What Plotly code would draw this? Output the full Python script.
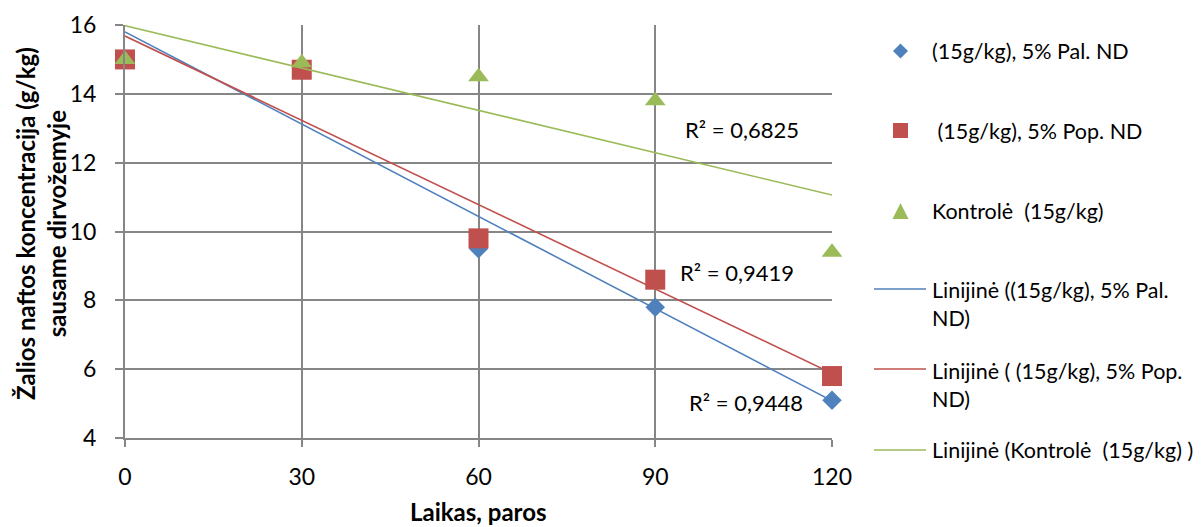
import numpy as np
import plotly.graph_objects as go

# Sampling days
days = [0, 30, 60, 90, 120]

# Crude oil concentration in dry soil, g/kg
pal_nd = [15.0, 14.8, 9.5, 7.8, 5.1]
pop_nd = [15.0, 14.7, 9.8, 8.6, 5.8]
kontrole = [15.0, 14.9, 14.5, 13.8, 9.4]

series_names = ["(15g/kg), 5% Pal. ND", " (15g/kg), 5% Pop. ND", "Kontrolė  (15g/kg)"]
trend_names = ["Linijinė ((15g/kg), 5% Pal.<br>ND)", "Linijinė ( (15g/kg), 5% Pop.<br>ND)",
               "Linijinė (Kontrolė  (15g/kg) )"]
r2_labels = ["R² = 0,9448", "R² = 0,9419", "R² = 0,6825"]

x_ticks = [0, 30, 60, 90, 120]
y_ticks = [4, 6, 8, 10, 12, 14, 16]

colors = ["#4F81BD", "#C0504D", "#9BBB59"]
symbols = ["diamond", "square", "triangle-up"]
sizes = [15, 20, 18]
FONT = "Lato"
GRID = "#868686"

# Figure geometry (pixels)
W, H = 1203, 527
L, R, T, B = 125, 832, 25, 438


def px(xp):
    return (xp - L) / (R - L)


def py(yp):
    return (B - yp) / (B - T)


fig = go.Figure()
data = [pal_nd, pop_nd, kontrole]
for vals, name, col, sym, sz in zip(data, series_names, colors, symbols, sizes):
    fig.add_trace(go.Scatter(x=days, y=vals, mode="markers", name=name, cliponaxis=False,
                             marker=dict(symbol=sym, size=sz, color=col, line=dict(width=0))))

# Least-squares linear trendlines
xs = np.array(days, dtype=float)
for vals, name, col in zip(data, trend_names, colors):
    slope, icpt = np.polyfit(xs, np.array(vals), 1)
    fig.add_trace(go.Scatter(x=[xs[0], xs[-1]], y=[icpt + slope * xs[0], icpt + slope * xs[-1]],
                             mode="lines", name=name, line=dict(color=col, width=1.6),
                             cliponaxis=False))

# R² labels next to each trendline
label_pos = [(95.4, 5.02), (93.9, 8.80), (94.7, 12.95)]
for (lx, ly), txt in zip(label_pos, r2_labels):
    fig.add_annotation(x=lx, y=ly, text=txt, showarrow=False, xanchor="left", yanchor="middle",
                       font=dict(family=FONT, size=22, color="black"))

# Hand-built legend on the right
shapes = []
mx = 900.5


def diamond(cx, cy, h):
    return (f"M{px(cx - h)},{py(cy)} L{px(cx)},{py(cy - h)} "
            f"L{px(cx + h)},{py(cy)} L{px(cx)},{py(cy + h)} Z")


def triangle(cx, cy, h):
    return (f"M{px(cx - h)},{py(cy + h)} L{px(cx + h)},{py(cy + h)} "
            f"L{px(cx)},{py(cy - h)} Z")


shapes.append(dict(type="path", xref="paper", yref="paper", path=diamond(mx, 51, 7.5),
                   fillcolor=colors[0], line=dict(width=0)))
shapes.append(dict(type="rect", xref="paper", yref="paper", x0=px(mx - 7.5), x1=px(mx + 7.5),
                   y0=py(138), y1=py(123), fillcolor=colors[1], line=dict(width=0)))
shapes.append(dict(type="path", xref="paper", yref="paper", path=triangle(mx, 211, 8),
                   fillcolor=colors[2], line=dict(width=0)))
for yy, col in zip([289, 369, 450], colors):
    shapes.append(dict(type="line", xref="paper", yref="paper", x0=px(874), x1=px(926),
                       y0=py(yy), y1=py(yy), line=dict(color=col, width=1.6)))

legend_rows = [51, 131, 211, 304, 385, 450]
for name, yy in zip(series_names + trend_names, legend_rows):
    fig.add_annotation(x=px(930), y=py(yy), xref="paper", yref="paper", text=name,
                       showarrow=False, xanchor="left", yanchor="middle", align="left",
                       font=dict(family=FONT, size=21.5, color="black"))

# Axis titles
fig.add_annotation(x=px(41), y=py(224), xref="paper", yref="paper", textangle=-90,
                   text="<b>Žalios naftos koncentracija (g/kg)<br>sausame dirvožemyje</b>",
                   showarrow=False, xanchor="center", yanchor="middle",
                   font=dict(family=FONT, size=24, color="black"))
fig.add_annotation(x=0.5, y=py(511), xref="paper", yref="paper",
                   text="<b>Laikas, paros</b>", showarrow=False, xanchor="center", yanchor="middle",
                   font=dict(family=FONT, size=24, color="black"))

fig.update_layout(
    width=W, height=H,
    margin=dict(l=L, r=W - R, t=T, b=H - B),
    paper_bgcolor="white", plot_bgcolor="white",
    font=dict(family=FONT, size=23, color="black"),
    showlegend=False,
    shapes=shapes,
)
fig.update_xaxes(range=[0, 120], tickvals=x_ticks, showgrid=True, gridcolor=GRID, gridwidth=2,
                 showline=True, linecolor=GRID, linewidth=2, ticks="outside", ticklen=7,
                 tickcolor=GRID, tickwidth=2, zeroline=False, automargin=False,
                 ticklabelstandoff=10, tickfont=dict(family=FONT, size=23))
fig.update_yaxes(range=[4, 16], tickvals=y_ticks, showgrid=True, gridcolor=GRID, gridwidth=2,
                 showline=True, linecolor=GRID, linewidth=2, ticks="outside", ticklen=8,
                 tickcolor=GRID, tickwidth=2, zeroline=False,
                 automargin=False, ticklabelstandoff=14, tickfont=dict(family=FONT, size=23))

fig.write_html("out.html")
